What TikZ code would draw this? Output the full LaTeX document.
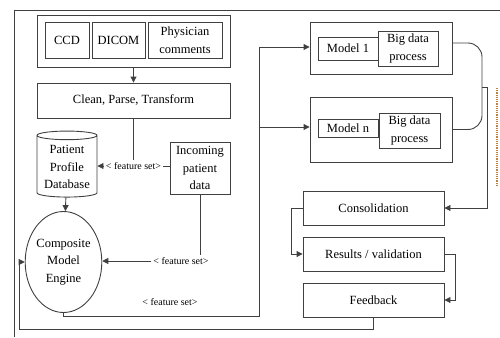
\documentclass[tikz,border=0pt]{standalone}
\usepackage{fontspec}
\setmainfont{Liberation Serif}
\usepackage{tikz}
\usetikzlibrary{arrows.meta,shapes.geometric,calc}
\definecolor{cLine}{HTML}{404040}
\definecolor{cDot}{HTML}{C08040}

\begin{document}
\begin{tikzpicture}[
  x=1pt, y=-1pt,
  line width=0.9pt, draw=cLine,
  >={Triangle[length=6pt,width=6pt]},
  every node/.style={font=\fontsize{12.5}{17.5}\selectfont, inner sep=1pt},
  blk/.style={draw=cLine, align=center, line width=0.9pt},
  grp/.style={blk, line width=0.9pt},
  fset/.style={font=\fontsize{10}{11}\selectfont, inner sep=1.5pt},
]
  \useasboundingbox (0,0) rectangle (500,337);
  % outer frame
  \draw[cLine] (500,10) -- (14,10) -- (14,337);
  % sources
  \node[grp, minimum width=193, minimum height=52] (src) at (133.5,41) {};
  \node[blk, minimum width=44, minimum height=36] (ccd) at (67,40) {CCD};
  \node[blk, minimum width=53, minimum height=36] (dicom) at (118.5,40) {DICOM};
  \node[blk, minimum width=74, minimum height=36] (phys) at (185,40) {Physician\\comments};
  \node[blk, minimum width=193, minimum height=35] (cpt) at (133.5,100.5) {Clean, Parse, Transform};
  % profile store and incoming data
  \node[blk, cylinder, shape border rotate=90, aspect=0.18,
        minimum width=60, minimum height=66] (db) at (67,167) {Patient\\Profile\\Database};
  \node[blk, minimum width=60, minimum height=52] (inc) at (200,168) {Incoming\\patient\\data};
  \node[blk, ellipse, minimum width=67, minimum height=101, inner sep=0pt] (cme) at (63.5,262) {Composite\\Model\\Engine};
  % feature set labels
  \node[fset] (fs1) at (133.5,166) {< feature set>};
  \node[fset] (fs2) at (181,261) {< feature set>};
  \node[fset] (fs3) at (170,302) {< feature set>};
  % models
  \node[grp, minimum width=142, minimum height=52] (m1grp) at (381,48) {};
  \node[blk, minimum width=60, minimum height=23] (m1) at (348,48.5) {Model 1};
  \node[blk, minimum width=60, minimum height=35] (bd1) at (408,48.5) {Big data\\process};
  \node[grp, minimum width=142, minimum height=65] (mngrp) at (381,129.5) {};
  \node[blk, minimum width=60, minimum height=18] (mn) at (348,128) {Model n};
  \node[blk, minimum width=61, minimum height=35] (bdn) at (409.5,130.5) {Big data\\process};
  % results chain
  \node[blk, minimum width=141, minimum height=34] (cons) at (373.5,208) {Consolidation};
  \node[blk, minimum width=141, minimum height=34] (res) at (373.5,254) {Results / validation};
  \node[blk, minimum width=141, minimum height=34] (fb) at (373.5,300) {Feedback};
  \coordinate (split) at (259,47);
  \coordinate (merge) at (482,87);
  % connectors
  \draw[->] (src) -- (cpt);
  \draw (cpt) -- (fs1);
  \draw (inc.west |- fs1) -- (fs1.east);
  \draw[->] (fs1.west) -- (fs1.west -| db.east);
  \draw[->] (db) -- (cme);
  \draw (inc) -- (inc |- fs2.north);
  \draw[->] (fs2.west) -- (fs2.west -| cme.east);
  \draw (cme.south) |- (split |- 0,316) -- (split);
  \draw[->] (split) -- (split -| m1grp.west);
  \draw[->] (split |- 0,127) -- (mngrp.west |- 0,127);
  \draw[rounded corners=14pt] ([yshift=5pt]m1grp.east) -| (merge) |- (mngrp.east);
  \draw[->] (merge) -- ++(5,0) |- (cons.east);
  \draw[->] (cons.west) -- ++(-11,0) |- (res.west);
  \draw[->] (res.east) -- ++(11,0) |- (fb.east);
  \draw[->] (fb.south) |- (19,329) |- (cme.west);
  % clipped side note
  \draw[cDot, densely dotted, line width=1.2pt] (497,88) -- (497,185);
\end{tikzpicture}
\end{document}
